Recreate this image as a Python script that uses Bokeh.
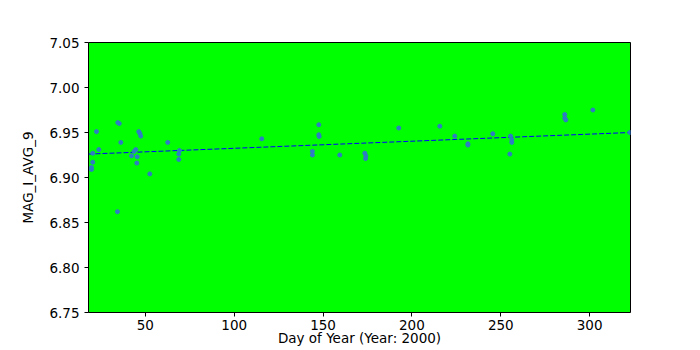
from bokeh.plotting import figure
from bokeh.models import Range1d, FixedTicker, NumeralTickFormatter
from bokeh.embed import file_html
from bokeh.resources import INLINE

# Data
day = [19.7, 19.7, 20.4, 20.4, 22.5, 23.8, 34.3, 34.5, 35.3, 36.2, 42.2, 43.7,
       44.6, 45.2, 45.4, 46.3, 46.9, 47.4, 52.5, 62.6, 68.8, 68.8, 69.2, 115.5,
       144.0, 144.0, 147.6, 147.6, 147.8, 159.4, 173.5, 173.9, 174.1, 192.6,
       215.7, 224.1, 231.5, 231.5, 245.5, 255.1, 255.5, 256.2, 256.2, 286.0,
       286.0, 286.6, 301.8, 322.6]
mag = [6.909, 6.911, 6.917, 6.927, 6.951, 6.931, 6.862, 6.961, 6.960, 6.939,
       6.924, 6.929, 6.931, 6.916, 6.923, 6.951, 6.949, 6.946, 6.904, 6.939,
       6.920, 6.926, 6.930, 6.943, 6.929, 6.925, 6.9586, 6.9475, 6.9456, 6.925,
       6.927, 6.921, 6.924, 6.955, 6.957, 6.946, 6.9375, 6.936, 6.9486, 6.926,
       6.946, 6.942, 6.939, 6.970, 6.966, 6.964, 6.975, 6.950]
fit_x = [18, 323]
fit_y = [6.926, 6.950]
x_ticks = [50, 100, 150, 200, 250, 300]
y_ticks = [6.75, 6.80, 6.85, 6.90, 6.95, 7.00, 7.05]

p = figure(width=700, height=350, frame_width=542, frame_height=270,
           output_backend="svg", toolbar_location=None,
           x_range=Range1d(18, 323), y_range=Range1d(6.75, 7.05),
           min_border_left=88, min_border_right=70, min_border_top=42,
           min_border_bottom=36)

p.background_fill_color = "#00ff00"
p.border_fill_color = "white"
p.outline_line_color = "black"
p.outline_line_width = 1
p.grid.visible = False

p.line(fit_x, fit_y, line_color="#0000ff", line_width=1, line_dash="5 2")
p.scatter(day, mag, size=4, marker="circle", fill_color="#2e7dc4",
          line_color="#2e7dc4")

for ax in (p.xaxis[0], p.yaxis[0]):
    ax.major_label_text_font = "DejaVu Sans"
    ax.major_label_text_font_size = "13.5px"
    ax.major_label_text_color = "black"
    ax.axis_label_text_font = "DejaVu Sans"
    ax.axis_label_text_font_size = "13.5px"
    ax.axis_label_text_font_style = "normal"
    ax.axis_label_text_color = "black"
    ax.minor_tick_line_color = None
    ax.major_tick_in = 0
    ax.major_tick_out = 4
    ax.axis_line_color = None
    ax.major_tick_line_color = "black"

p.xaxis.ticker = FixedTicker(ticks=x_ticks)
p.yaxis.ticker = FixedTicker(ticks=y_ticks)
p.yaxis.formatter = NumeralTickFormatter(format="0.00")
p.xaxis.axis_label = "Day of Year (Year: 2000)"
p.yaxis.axis_label = "MAG_I_AVG_9"
p.xaxis.major_label_standoff = 3
p.xaxis.axis_label_standoff = -3
p.yaxis.major_label_standoff = 5
p.yaxis.axis_label_standoff = 10

open("out.html", "w").write(file_html(p, INLINE))
